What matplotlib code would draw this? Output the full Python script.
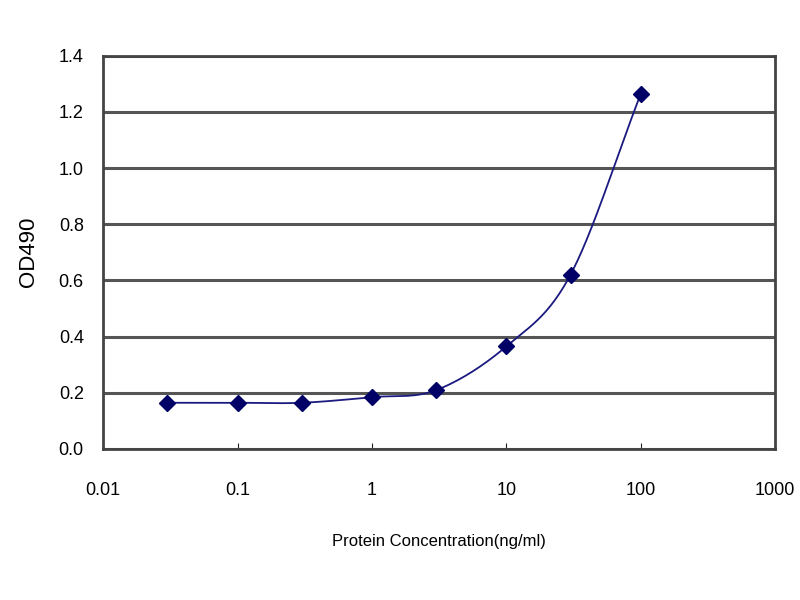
import matplotlib
matplotlib.use("Agg")
import matplotlib.pyplot as plt
import numpy as np

# data
conc = [0.03, 0.1, 0.3, 1, 3, 10, 30, 100]
od490 = [0.164, 0.164, 0.164, 0.184, 0.209, 0.365, 0.62, 1.265]

x_ticks = [0.01, 0.1, 1, 10, 100, 1000]
x_labels = ["0.01", "0.1", "1", "10", "100", "1000"]
y_ticks = [0.0, 0.2, 0.4, 0.6, 0.8, 1.0, 1.2, 1.4]
y_labels = ["0.0", "0.2", "0.4", "0.6", "0.8", "1.0", "1.2", "1.4"]

plt.rcParams['font.family'] = ['Liberation Sans', 'DejaVu Sans']


def smooth(xs, ys, n=30):
    # Catmull-Rom style smoothing (like spreadsheet smoothed lines), in log-x
    lx = np.log10(xs)
    ys = np.asarray(ys, dtype=float)
    px = np.concatenate([[2 * lx[0] - lx[1]], lx, [2 * lx[-1] - lx[-2]]])
    py = np.concatenate([[2 * ys[0] - ys[1]], ys, [2 * ys[-1] - ys[-2]]])
    out_x, out_y = [], []
    t = np.linspace(0, 1, n)
    for i in range(1, len(px) - 2):
        for P, out in ((px, out_x), (py, out_y)):
            p0, p1, p2, p3 = P[i - 1], P[i], P[i + 1], P[i + 2]
            m1 = (p2 - p0) / 2
            m2 = (p3 - p1) / 2
            h00 = 2 * t**3 - 3 * t**2 + 1
            h10 = t**3 - 2 * t**2 + t
            h01 = -2 * t**3 + 3 * t**2
            h11 = t**3 - t**2
            out.extend(h00 * p1 + h10 * m1 + h01 * p2 + h11 * m2)
    return 10 ** np.array(out_x), np.array(out_y)


fig = plt.figure(figsize=(8, 6), dpi=100)
ax = fig.add_axes([0.129, 0.252, 0.84, 0.655])

sx, sy = smooth(conc, od490)
ax.plot(sx, sy, color="#1a1a80", lw=1.3, zorder=3)
ax.plot(conc, od490, linestyle="none", marker="D", markersize=8,
        color="#000066", zorder=4)

ax.set_xscale("log")
ax.set_xlim(0.01, 1000)
ax.set_ylim(0, 1.4)
ax.set_xticks(x_ticks)
ax.set_xticklabels(x_labels)
ax.set_yticks(y_ticks)
ax.set_yticklabels(y_labels)
ax.minorticks_off()
ax.tick_params(axis="x", direction="in", length=4, color="#222222",
               labelsize=13, pad=24)
ax.tick_params(axis="y", direction="in", length=0, labelsize=13, pad=14)

ax.grid(axis="y", color="#555555", lw=2.2, zorder=1)
for s in ax.spines.values():
    s.set_color("#444444")
    s.set_linewidth(2)

ax.set_xlabel("Protein Concentration(ng/ml)", fontsize=12, labelpad=25)
ax.set_ylabel("OD490", fontsize=16, labelpad=14)

fig.savefig("out.png", dpi=100)
